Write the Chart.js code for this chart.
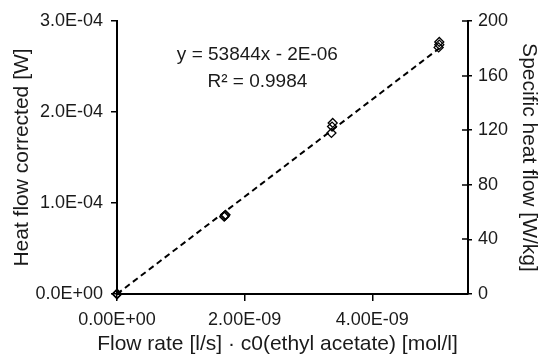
<!DOCTYPE html>
<html>
<head>
<meta charset="utf-8">
<script src="https://cdn.jsdelivr.net/npm/chart.js@4"></script>
<style>html,body{margin:0;padding:0;background:#fff}</style>
</head>
<body>
<canvas id="chart" width="541" height="364"></canvas>
<script>
// measured points (several runs overlap at each flow rate)
const flowX=[0,0,0, 1.68e-9,1.69e-9,1.70e-9, 3.36e-9,3.37e-9,3.38e-9, 5.04e-9,5.05e-9,5.05e-9];
const heatY=[0,0,0, 8.5e-5,8.6e-5,8.7e-5, 1.77e-4,1.84e-4,1.88e-4, 2.71e-4,2.74e-4,2.77e-4];
const trendX=[0,5.05e-9];
const trendY=[0,2.70e-4];
const xTicks=[0,2e-9,4e-9];
const leftTicks=[0,1e-4,2e-4,3e-4];
const rightTicks=[0,40,80,120,160,200];
const equation=["y = 53844x - 2E-06","R² = 0.9984"];
const eqAnchor={x:2.2e-9,y:2.63e-4};
const xTitle='Flow rate [l/s] · c0(ethyl acetate) [mol/l]';

const FONT="'Liberation Sans', Arial, Helvetica, sans-serif";
const ink="#1a1a1a";

function sci(v,d){
    let s=v.toExponential(d).toUpperCase();
    return s.replace(/E([+-])(\d)$/,'E$10$2');
}

const extras={
    id:'extras',
    afterDraw(chart){
        const ctx=chart.ctx, area=chart.chartArea, y2=chart.scales.y2, x=chart.scales.x, y=chart.scales.y;
        ctx.save();
        ctx.strokeStyle='#000';
        ctx.lineWidth=1.5;
        rightTicks.forEach(v=>{
            const py=Math.round(y2.getPixelForValue(v));
            ctx.beginPath();ctx.moveTo(area.right-6,py);ctx.lineTo(area.right,py);ctx.stroke();
        });
        ctx.fillStyle=ink;
        ctx.font="19px "+FONT;
        ctx.textAlign='center';
        ctx.textBaseline='middle';
        const px=x.getPixelForValue(eqAnchor.x), py=y.getPixelForValue(eqAnchor.y);
        ctx.fillText(equation[0],px,py);
        ctx.fillText(equation[1],px,py+27);
        // x-axis title sits centred on the whole figure, not on the plot
        ctx.font="21px "+FONT;
        ctx.fillText(xTitle,chart.width/2+7,chart.height-20);
        ctx.restore();
    }
};

new Chart(document.getElementById('chart'),{
    type:'scatter',
    data:{
        datasets:[{
            type:'line',
            data:trendX.map((v,i)=>({x:v,y:trendY[i]})),
            borderColor:'#000',
            borderWidth:2,
            borderDash:[6,4],
            pointRadius:0,
            fill:false
        },{
            data:flowX.map((v,i)=>({x:v,y:heatY[i]})),
            pointStyle:'rectRot',
            pointRadius:4.5,
            borderColor:'#000',
            borderWidth:1.3,
            backgroundColor:'rgba(0,0,0,0)',
            clip:false
        }]
    },
    plugins:[extras],
    options:{
        responsive:false,
        animation:false,
        layout:{padding:{top:21,left:0,right:0,bottom:0}},
        plugins:{legend:{display:false},tooltip:{enabled:false}},
        scales:{
            x:{
                type:'linear',min:0,max:5.5e-9,
                afterBuildTicks(s){s.ticks=xTicks.map(v=>({value:v}));},
                afterFit(s){s.height=70;},
                grid:{drawOnChartArea:false,tickLength:7,color:'#000',lineWidth:1.5},
                border:{color:'#000',width:2},
                ticks:{color:ink,padding:8,font:{family:FONT,size:18},maxRotation:0,callback:v=>sci(v,2)}
            },
            y:{
                type:'linear',position:'left',min:0,max:3e-4,
                afterBuildTicks(s){s.ticks=leftTicks.map(v=>({value:v}));},
                afterFit(s){s.width=117;},
                grid:{drawOnChartArea:false,tickLength:6,color:'#000',lineWidth:1.5},
                border:{color:'#000',width:2},
                ticks:{color:ink,padding:8,font:{family:FONT,size:18},callback:v=>sci(v,1)},
                title:{display:true,text:'Heat flow corrected [W]',color:ink,font:{family:FONT,size:21},padding:{top:10}}
            },
            y2:{
                type:'linear',position:'right',min:0,max:200,
                afterBuildTicks(s){s.ticks=rightTicks.map(v=>({value:v}));},
                afterFit(s){s.width=73;},
                grid:{drawOnChartArea:false,tickLength:4,color:'#000',lineWidth:1.5},
                border:{color:'#000',width:2},
                ticks:{color:ink,padding:6,font:{family:FONT,size:18}},
                title:{display:true,text:'Specific heat flow [W/kg]',color:ink,font:{family:FONT,size:21},padding:{top:0}}
            }
        }
    }
});
</script>
</body>
</html>
